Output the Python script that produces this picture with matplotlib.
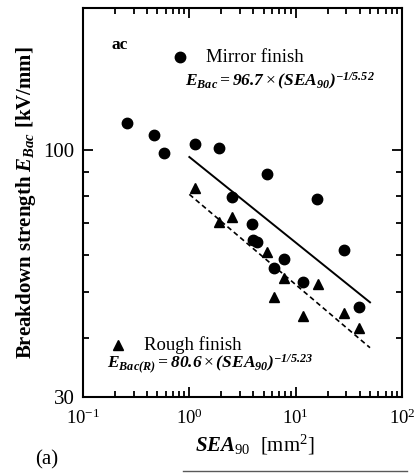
import numpy as np
import matplotlib
matplotlib.use("Agg")
import matplotlib.pyplot as plt
from matplotlib.ticker import FixedLocator, FixedFormatter, LogLocator, NullFormatter
from matplotlib.lines import Line2D

# ---------------------------------------------------------------------------
# Breakdown strength vs. stressed electrode area (ac)
# ---------------------------------------------------------------------------

mirror_sea = [0.258, 0.466, 0.584, 1.14, 1.91, 5.37, 15.9, 2.53, 3.91,
              3.97, 4.30, 7.85, 6.28, 11.6, 28.4, 39.0]
mirror_eb = [114.0, 107.6, 98.6, 102.9, 100.9, 88.8, 78.9, 79.4, 69.6,
             64.4, 64.0, 58.8, 56.3, 52.5, 61.3, 46.6]

rough_sea = [1.14, 1.91, 2.52, 5.37, 7.77, 6.28, 11.6, 16.1, 28.2, 39.0]
rough_eb = [83.0, 70.3, 72.3, 60.8, 53.5, 48.9, 44.6, 52.0, 45.2, 42.1]

# fitted power laws E = A * SEA^(-1/n)
mirror_fit = (96.7, 5.52)
rough_fit = (80.6, 5.23)
fit_range = (1.0, 50.0)

xticks = [0.1, 1, 10, 100]
xtick_labels = [r"$10^{-1}$", r"$10^{0}$", r"$10^{1}$", r"$10^{2}$"]
yticks = [30, 100]
ytick_labels = ["30", "100"]
yminor = [40, 50, 60, 70, 80, 90, 200]

plt.rcParams["font.family"] = "Liberation Serif"
plt.rcParams["mathtext.fontset"] = "custom"
plt.rcParams["mathtext.rm"] = "Liberation Serif"
plt.rcParams["mathtext.it"] = "Liberation Serif:italic:bold"
plt.rcParams["mathtext.bf"] = "Liberation Serif:bold"
plt.rcParams["mathtext.bfit"] = "Liberation Serif:italic:bold"

fig = plt.figure(figsize=(4.15, 4.73), dpi=100)
ax = fig.add_axes([0.2, 0.1607, 0.7687, 0.8224])

ax.plot(mirror_sea, mirror_eb, "o", color="black", ms=7.5, mec="black")
ax.plot(rough_sea, rough_eb, "^", color="black", ms=7.5, mec="black")

xs = np.logspace(np.log10(fit_range[0]), np.log10(fit_range[1]), 50)
ax.plot(xs, mirror_fit[0] * xs ** (-1 / mirror_fit[1]), "-", color="black", lw=1.4)
ax.plot(xs, rough_fit[0] * xs ** (-1 / rough_fit[1]), "--", color="black", lw=1.2,
        dashes=(3, 2))

ax.set_xscale("log")
ax.set_yscale("log")
ax.set_xlim(0.1, 100)
ax.set_ylim(30, 200)

ax.xaxis.set_major_locator(FixedLocator(xticks))
ax.xaxis.set_major_formatter(FixedFormatter(xtick_labels))
ax.xaxis.set_minor_locator(LogLocator(base=10, subs=np.arange(2, 10)))
ax.xaxis.set_minor_formatter(NullFormatter())
ax.yaxis.set_major_locator(FixedLocator(yticks))
ax.yaxis.set_major_formatter(FixedFormatter(ytick_labels))
ax.yaxis.set_minor_locator(FixedLocator(yminor))
ax.yaxis.set_minor_formatter(NullFormatter())

ax.tick_params(which="both", direction="in", top=True, right=True, width=1.3)
ax.tick_params(which="major", length=7, pad=6)
ax.tick_params(axis="x", which="major", labelsize=13.5, pad=8)
ax.tick_params(axis="y", which="major", labelsize=15)
ax.tick_params(which="minor", length=4)
for sp in ax.spines.values():
    sp.set_linewidth(1.5)

ax.set_ylabel(r"Breakdown strength $E_{Bac}$ [kV/mm]", fontsize=15,
              fontweight="bold", labelpad=4)
ax.set_xlabel(r"$SEA_{90}$  [mm$^2$]", fontsize=15, labelpad=4, x=0.54)

# legend-style annotations
ax.text(0.09, 0.905, "ac", transform=ax.transAxes, fontsize=12.5,
        fontweight="bold", va="center")
ax.plot([0.305], [0.873], "o", color="black", ms=7.5, transform=ax.transAxes)
ax.text(0.385, 0.873, "Mirror finish", transform=ax.transAxes, fontsize=13.5,
        va="center")
ax.text(0.32, 0.81,
        r"$\mathbfit{E_{Bac}=96.7}\times\mathbfit{(SEA_{90})^{-1/5.52}}$",
        transform=ax.transAxes, fontsize=12.5, va="center")
ax.plot([0.11], [0.133], "^", color="black", ms=7.5, transform=ax.transAxes)
ax.text(0.19, 0.133, "Rough finish", transform=ax.transAxes, fontsize=13.5,
        va="center")
ax.text(0.075, 0.085,
        r"$\mathbfit{E_{Bac(R)}=80.6}\times\mathbfit{(SEA_{90})^{-1/5.23}}$",
        transform=ax.transAxes, fontsize=12.5, va="center")

fig.text(0.113, 0.027, "(a)", fontsize=15, va="center", ha="center")
fig.add_artist(Line2D([0.44, 0.98], [0.004, 0.004], transform=fig.transFigure,
                      color="0.35", lw=1.0))

fig.savefig("out.png", dpi=100)
